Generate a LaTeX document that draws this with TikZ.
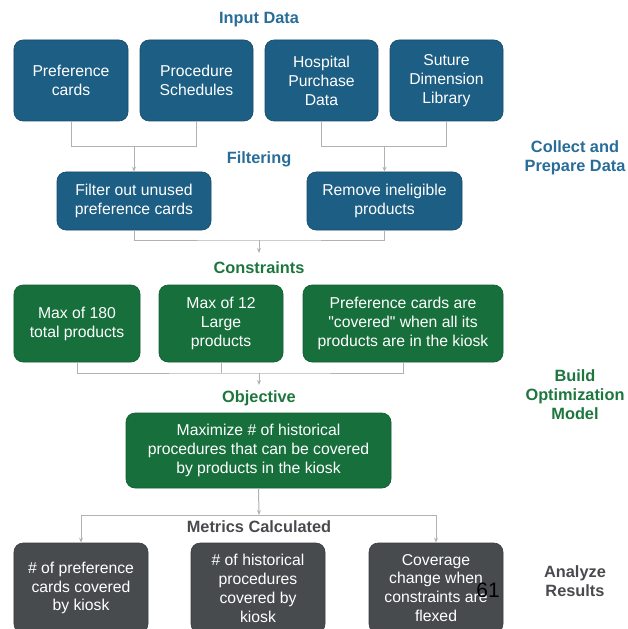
\documentclass[tikz,border=0pt]{standalone}
\usepackage{fontspec}
\setmainfont{Liberation Sans}[Ligatures=TeXOff]
\usetikzlibrary{arrows.meta}
\definecolor{boxblue}{RGB}{29,94,132}
\definecolor{headblue}{RGB}{40,108,152}
\definecolor{boxgreen}{RGB}{23,112,60}
\definecolor{headgreen}{RGB}{28,118,62}
\definecolor{boxgray}{RGB}{72,75,78}
\definecolor{headgray}{RGB}{72,74,77}
\definecolor{wire}{RGB}{178,178,178}
\tikzset{
  card/.style={rounded corners=9bp, inner sep=0pt, align=center, text=white,
    font=\fontsize{15.8}{19}\selectfont, draw=#1!80!black, line width=0.6bp, fill=#1},
  bluecard/.style={card=boxblue},
  greencard/.style={card=boxgreen},
  graycard/.style={card=boxgray},
  head/.style={font=\fontsize{16.4}{19}\selectfont\bfseries, text=#1, align=center, inner sep=0pt},
  conn/.style={draw=wire, line width=1bp},
  arr/.style={conn, -{Stealth[length=5bp,width=4bp]}},
}
\begin{document}
\begin{tikzpicture}[x=1bp,y=-1bp]
\useasboundingbox (0,0) rectangle (628,629);

% ---- Collect and prepare data ----
\node[head=headblue] (tin) at (259,20) {Input Data};
\node[bluecard, minimum width=114bp, minimum height=81bp] (a) at (71,80.5) {Preference\\cards};
\node[bluecard, minimum width=113bp, minimum height=81bp] (b) at (196.5,80.5) {Procedure\\Schedules};
\node[bluecard, minimum width=113bp, minimum height=81bp] (c) at (321.5,80.5) {Hospital\\Purchase\\Data};
\node[bluecard, minimum width=113bp, minimum height=81bp] (d) at (446.5,80.5) {Suture\\Dimension\\Library};

\node[head=headblue] (tfil) at (259,159) {Filtering};
\node[bluecard, minimum width=154bp, minimum height=58bp] (f) at (134,201) {Filter out unused\\preference cards};
\node[bluecard, minimum width=155bp, minimum height=58bp] (r) at (384.5,201) {Remove ineligible\\products};

\node[head=headblue] (s1) at (575,158) {Collect and\\Prepare Data};

\coordinate (j1) at (134,147);
\coordinate (j2) at (384.5,147);
\draw[conn] (a.south) -- (a.south |- j1) -| (b.south);
\draw[arr] (j1) -- (f.north);
\draw[conn] (c.south) -- (c.south |- j2) -| (d.south);
\draw[arr] (j2) -- (r.north);

% ---- Build optimization model ----
\coordinate (j3) at (259,240);
\node[head=headgreen] (tcon) at (259,268) {Constraints};
\draw[conn] (f.south) |- (j3) -| (r.south);
\draw[arr] (j3) -- (259,253);

\node[greencard, minimum width=126bp, minimum height=77bp] (g1) at (77,323.5) {Max of 180\\total products};
\node[greencard, minimum width=124bp, minimum height=77bp] (g2) at (221,323.5) {Max of 12\\Large\\products};
\node[greencard, minimum width=200bp, minimum height=77bp] (g3) at (403,323.5) {Preference cards are\\"covered" when all its\\products are in the kiosk};

\coordinate (j4) at (259,373);
\draw[conn] (g1.south) |- (j4) -| (g3.south);
\draw[conn] (g2.south) -- (g2.south |- j4);
\draw[arr] (j4) -- (259,385);

\node[head=headgreen] (tobj) at (259,398) {Objective};
\node[greencard, minimum width=265bp, minimum height=75bp] (o) at (258.5,450.5) {Maximize \# of historical\\procedures that can be covered\\by products in the kiosk};

\node[head=headgreen] (s2) at (575,395) {Build\\Optimization\\Model};

% ---- Analyze results ----
\coordinate (j5) at (259,515);
\draw[arr] (o.south) -- (j5);
\node[head=headgray] (tmet) at (259,527) {Metrics Calculated};
\node[graycard, minimum width=134bp, minimum height=90bp] (k1) at (81,588) {\# of preference\\cards covered\\by kiosk};
\node[graycard, minimum width=134bp, minimum height=90bp] (k2) at (258,588) {\# of historical\\procedures\\covered by\\kiosk};
\node[graycard, minimum width=134bp, minimum height=90bp] (k3) at (436,588) {Coverage\\change when\\constraints are\\flexed};
\draw[arr] (j5) -| (k1.north);
\draw[arr] (j5) -| (k3.north);

\node[head=headgray] (s3) at (575,581) {Analyze\\Results};

\node[font=\fontsize{21}{21}\selectfont, text=black, inner sep=0pt] (pg) at (488,590) {61};
\end{tikzpicture}
\end{document}
